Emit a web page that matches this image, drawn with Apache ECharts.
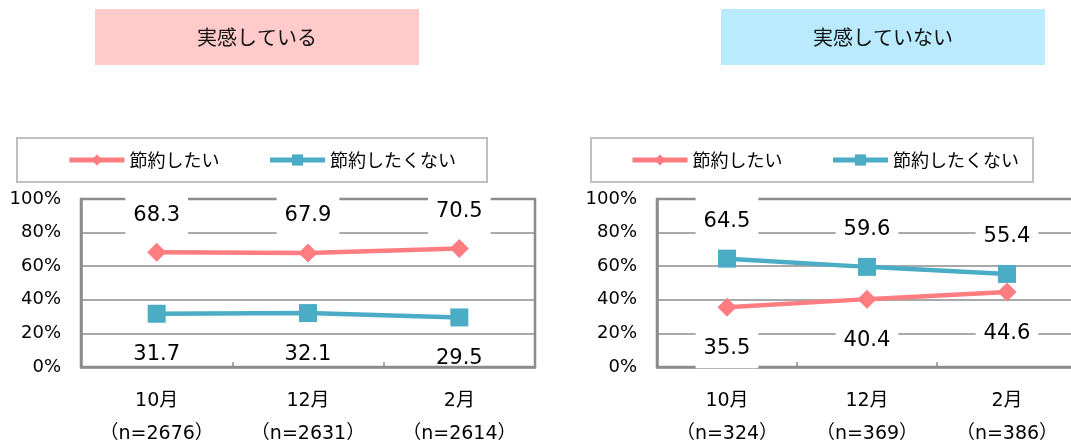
<!DOCTYPE html>
<html lang="ja">
<head>
<meta charset="utf-8">
<title>節約意識</title>
<script src="https://cdn.jsdelivr.net/npm/echarts@6/dist/echarts.min.js"></script>
<style>
  html, body { margin: 0; padding: 0; background: #fff; }
  #chart { width: 1071px; height: 446px; }
</style>
</head>
<body>
<div id="chart"></div>
<script>
(() => {
  // ── Data ──────────────────────────────────────────────────────────────────
  const months = ['10月', '12月', '2月'];
  const nLeft = [2676, 2631, 2614];
  const nRight = [324, 369, 386];

  const leftWant = [68.3, 67.9, 70.5];
  const leftNotWant = [31.7, 32.1, 29.5];
  const rightWant = [35.5, 40.4, 44.6];
  const rightNotWant = [64.5, 59.6, 55.4];

  const yTicks = [0, 20, 40, 60, 80, 100];
  const seriesNames = ['節約したい', '節約したくない'];
  const panelTitles = ['実感している', '実感していない'];

  // ── Style ─────────────────────────────────────────────────────────────────
  const PINK = '#FF7C80';
  const BLUE = '#4BACC6';
  const GRID_GRAY = '#8c8c8c';
  const NUM_FONT = "'DejaVu Sans', 'Noto Sans CJK JP', sans-serif";
  const JP_FONT = "'Noto Sans CJK JP', sans-serif";

  const catLabels = n => months.map((m, i) => `${m}\n（n=${n[i]}）`);

  function xAxis(gridIndex, n) {
    return {
      type: 'category', gridIndex, data: catLabels(n), boundaryGap: true,
      axisLine: { lineStyle: { color: GRID_GRAY, width: 2.5 } },
      axisTick: { show: true, inside: true, length: 5, lineStyle: { color: GRID_GRAY, width: 1.5 } },
      axisLabel: { interval: 0, margin: 18, fontSize: 19, lineHeight: 33, color: '#000', fontFamily: NUM_FONT },
    };
  }

  function yAxis(gridIndex) {
    return {
      type: 'value', gridIndex, min: yTicks[0], max: yTicks[yTicks.length - 1], interval: yTicks[1] - yTicks[0],
      axisLine: { show: true, lineStyle: { color: GRID_GRAY, width: 2.5 } },
      axisTick: { show: false },
      axisLabel: { margin: 20, fontSize: 18, color: '#000', fontFamily: NUM_FONT, formatter: '{value}%' },
      splitLine: { show: true, lineStyle: { color: GRID_GRAY, width: 1.5 } },
    };
  }

  // above = label over the point, below = label under it
  function series(name, data, idx, color, symbol, above, withBg = true) {
    return {
      name, type: 'line', data, xAxisIndex: idx, yAxisIndex: idx,
      symbol, symbolSize: symbol === 'rect' ? 18 : 19,
      lineStyle: { color, width: 4.5 },
      itemStyle: { color },
      label: {
        show: true, position: 'inside', offset: [0, above ? -37 : 41],
        formatter: p => p.value.toFixed(1),
        fontSize: 21, lineHeight: 24, color: '#000', fontFamily: NUM_FONT,
        backgroundColor: withBg ? '#fff' : 'transparent',
        padding: above ? [13, 8] : [8, 8],
      },
      emphasis: { disabled: true },
      animation: false,
    };
  }

  function legend(left) {
    return {
      data: seriesNames, left, top: 151, padding: 0,
      itemWidth: 55, itemHeight: 14, itemGap: 48,
      lineStyle: { width: 5 },
      textStyle: { fontSize: 18, color: '#000', fontFamily: JP_FONT },
      selectedMode: false,
    };
  }

  function titleBox(x, fill, text) {
    return {
      type: 'group', left: x, top: 9,
      children: [
        { type: 'rect', shape: { x: 0, y: 0, width: 324, height: 56 }, style: { fill } },
        { type: 'text', x: 162, y: 28, style: { text, fill: '#111', fontSize: 20, fontFamily: JP_FONT, align: 'center', verticalAlign: 'middle' } },
      ],
    };
  }

  function legendBox(x, w) {
    return { type: 'rect', shape: { x, y: 138, width: w, height: 44 }, style: { fill: 'none', stroke: '#bfbfbf', lineWidth: 2 }, z: -1 };
  }

  // ── Chart ─────────────────────────────────────────────────────────────────
  // outerBoundsMode 'none': keep the plot boxes where they are, labels may run to the edge
  const gridBase = { top: 199, height: 168, show: true, borderColor: GRID_GRAY, borderWidth: 2.5, outerBoundsMode: 'none', containLabel: false };

  const inst = echarts.init(document.getElementById('chart'));
  inst.setOption({
    animation: false,
    grid: [
      { ...gridBase, left: 81, width: 454 },
      { ...gridBase, left: 657, width: 420 },
    ],
    xAxis: [xAxis(0, nLeft), xAxis(1, nRight)],
    yAxis: [yAxis(0), yAxis(1)],
    legend: [legend(67), legend(630)],
    graphic: [
      titleBox(95, '#FFCACA', panelTitles[0]),
      titleBox(721, '#B9EAFD', panelTitles[1]),
      legendBox(17, 470),
      legendBox(591, 442),
    ],
    series: [
      series(seriesNames[0], leftWant, 0, PINK, 'diamond', true),
      series(seriesNames[1], leftNotWant, 0, BLUE, 'rect', false, false),
      series(seriesNames[0], rightWant, 1, PINK, 'diamond', false),
      series(seriesNames[1], rightNotWant, 1, BLUE, 'rect', true),
    ],
  });
  window.addEventListener('resize', () => inst.resize());
})();
</script>
</body>
</html>
